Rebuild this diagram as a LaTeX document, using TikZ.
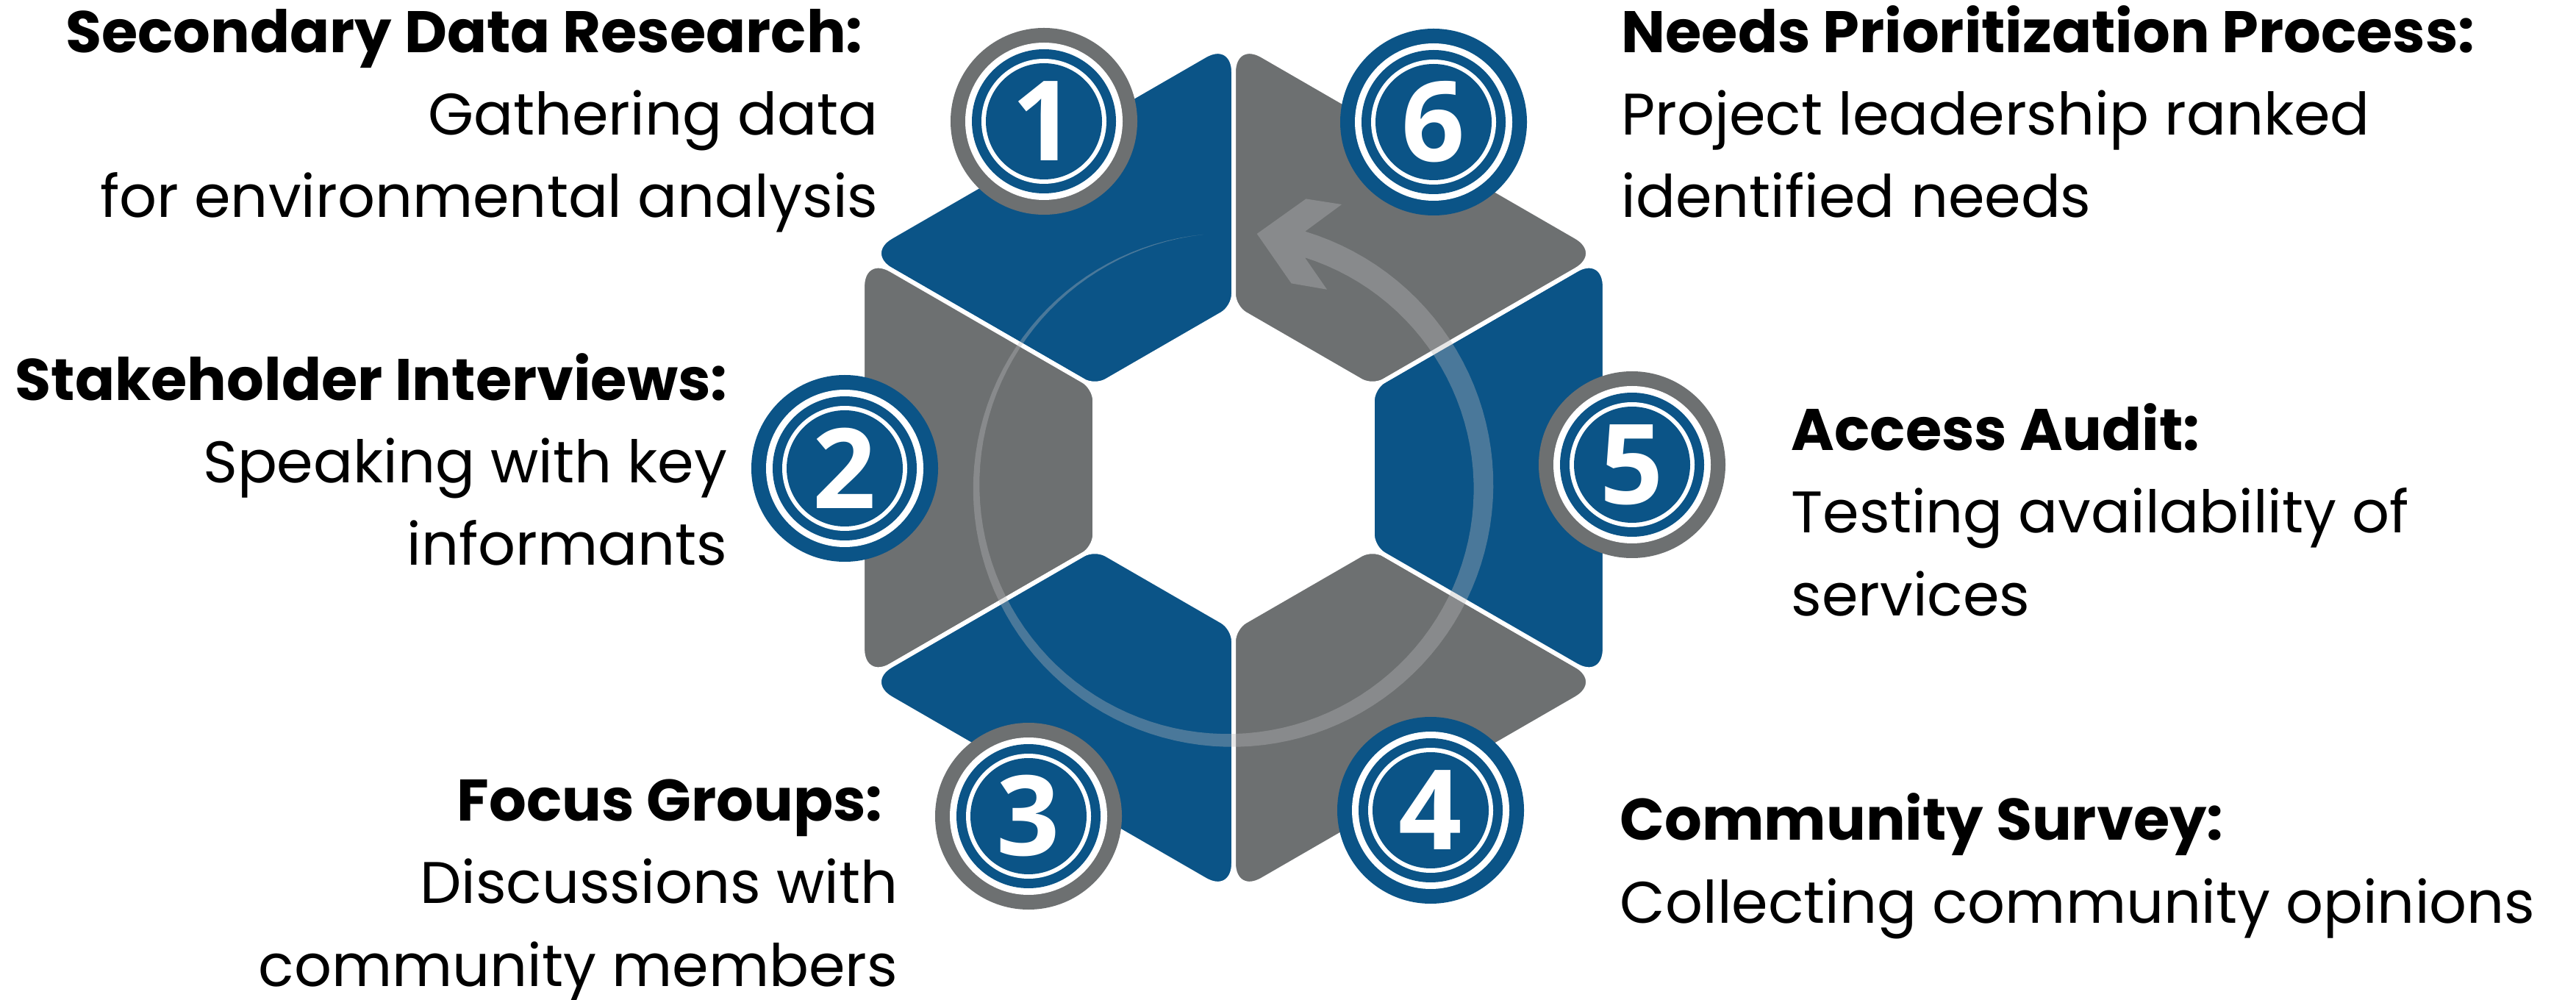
\documentclass[tikz,border=0pt]{standalone}
\usepackage{fontspec}
\setmainfont{Poppins}
\newfontfamily\numfont{Open Sans}
\usepackage{tikz}
\definecolor{hexblue}{RGB}{11,84,135}
\definecolor{hexgray}{RGB}{109,112,113}
\definecolor{arcgray}{RGB}{186,186,188}

\begin{document}
\begin{tikzpicture}[
  piece/.style={draw=white, line width=0.06cm, rounded corners=0.45cm},
  badge/.style={circle, fill=hexblue, minimum size=1.58cm, inner sep=0pt,
    text=white, font=\numfont\bfseries\fontsize{43pt}{43pt}\selectfont},
  txtleft/.style={inner sep=0pt, align=right, anchor=base east,
    font=\fontsize{22.7pt}{31.9pt}\selectfont},
  txtright/.style={inner sep=0pt, align=left, anchor=base west,
    font=\fontsize{22.7pt}{31.9pt}\selectfont},
]
\useasboundingbox (0,0) rectangle (35.04,13.59);

% Hexagon ring, one side per step (sharp outer tips get more rounding)
\begin{scope}[shift={(16.78,7.23)}]
  \foreach \a/\c in {90/hexblue,150/hexgray,210/hexblue,270/hexgray,330/hexblue,30/hexgray}
    \filldraw[piece, fill=\c] ({\a+30}:5.049) -- ({\a+60}:5.83) -- ({\a+60}:4)
      [rounded corners=0.18cm] -- ({\a+60}:2.18) -- (\a:2.18) -- (\a:4)
      [rounded corners=0.45cm] -- (\a:5.83) -- cycle;
\end{scope}

% Turning arrow (tapered, see-through)
\begin{scope}[shift={(16.73,6.97)}]
  \fill[arcgray, opacity=0.36]
    plot[domain=96:433.6, samples=120] (\x:{3.45+0.17*(\x-96)/337.6})
    -- (68.4:4.13) -- (75.2:4.05) -- (83.9:3.46) -- (73.2:2.89) -- (63.8:2.99)
    -- plot[domain=431.9:96, samples=120] (\x:{3.45-0.17*(\x-96)/335.9}) -- cycle;
\end{scope}

% Number badges
\foreach \p/\n/\r in {{14.20,11.94}/1/hexgray,{11.49,7.22}/2/hexblue,{13.99,2.49}/3/hexgray,
    {19.46,2.57}/4/hexblue,{22.20,7.27}/5/hexgray,{19.50,11.93}/6/hexblue} {
  \fill[\r] (\p) circle (1.27);
  \fill[white] (\p) circle (1.07);
  \fill[hexblue] (\p) circle (0.98);
  \fill[white] (\p) circle (0.85);
  \node[badge] (b\n) at (\p) {\n};
}

% Step texts (anchored on their last line)
\node[txtleft] (t1) at (11.95,10.63) {\textbf{Secondary Data Research:}\hspace*{.26em}\\
  Gathering data\hspace*{.26em}\\for environmental analysis};
\node[txtleft] (t2) at (9.90,5.90) {\textbf{Stakeholder Interviews:}\\Speaking with key\\informants};
\node[txtleft] (t3) at (12.22,0.18) {\textbf{Focus Groups:}\hspace*{.26em}\\Discussions with\\
  community members};
\node[txtright] (t6) at (22.05,10.63) {\textbf{Needs Prioritization Process:}\\
  Project leadership ranked\\identified needs};
\node[txtright] (t5) at (24.36,5.22) {\textbf{Access Audit:}\\Testing availability of\\services};
\node[txtright] (t4) at (22.03,1.04) {\textbf{Community Survey:}\\Collecting community opinions};
\end{tikzpicture}
\end{document}
